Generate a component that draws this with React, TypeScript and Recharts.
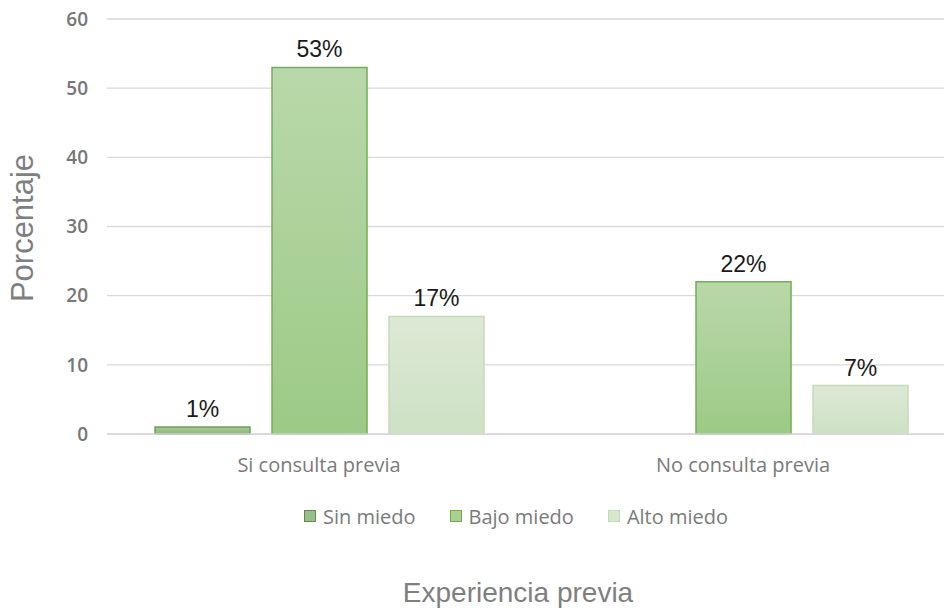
import React from 'react';
import { BarChart, Bar, XAxis, YAxis, CartesianGrid, Legend, LabelList } from 'recharts';

const categories = ['Si consulta previa', 'No consulta previa'];
const sinMiedo = [1, 0];
const bajoMiedo = [53, 22];
const altoMiedo = [17, 7];
const yTicks = [0, 10, 20, 30, 40, 50, 60];
const seriesNames = ['Sin miedo', 'Bajo miedo', 'Alto miedo'];

const data = categories.map((c, i) => ({
  name: c,
  sin: sinMiedo[i],
  bajo: bajoMiedo[i],
  alto: altoMiedo[i],
}));

const seriesStyle = [
  { key: 'sin', grad: 'gSin', stroke: '#6e9e57', legendFill: '#9bbd8b', legendStroke: '#5f8c4a' },
  { key: 'bajo', grad: 'gBajo', stroke: '#74ad52', legendFill: '#a9d193', legendStroke: '#70ad47' },
  { key: 'alto', grad: 'gAlto', stroke: '#c5dcb9', legendFill: '#d6e7cd', legendStroke: '#c2dbb4' },
];

const labelFmt = (v: any) => (v ? `${v}%` : '');

const LegendContent = () => (
  <div style={{ display: 'flex', justifyContent: 'center', alignItems: 'center', height: 26, fontFamily: 'Open Sans', fontSize: 20, color: '#7a7a7a' }}>
    {seriesNames.map((n, i) => (
      <div key={n} style={{ display: 'flex', alignItems: 'center', marginRight: i < 2 ? 34 : 0 }}>
        <span style={{ display: 'inline-block', width: 10, height: 10, background: seriesStyle[i].legendFill, border: `1.5px solid ${seriesStyle[i].legendStroke}`, marginRight: 7 }} />
        <span>{n}</span>
      </div>
    ))}
  </div>
);

export default function App() {
  return (
    <div style={{ position: 'absolute', left: 0, top: 0, width: 944, height: 609, overflow: 'hidden', background: '#fff' }}>
      <BarChart
        width={960}
        height={609}
        data={data}
        margin={{ top: 19, right: 5, bottom: 0, left: 0 }}
        barSize={95}
        barGap={22}
      >
        <defs>
          <linearGradient id="gSin" x1="0" y1="0" x2="0" y2="1">
            <stop offset="0%" stopColor="#a8c898" />
            <stop offset="100%" stopColor="#8fb67c" />
          </linearGradient>
          <linearGradient id="gBajo" x1="0" y1="0" x2="0" y2="1">
            <stop offset="0%" stopColor="#b9d8aa" />
            <stop offset="100%" stopColor="#9cca86" />
          </linearGradient>
          <linearGradient id="gAlto" x1="0" y1="0" x2="0" y2="1">
            <stop offset="0%" stopColor="#dde9d6" />
            <stop offset="100%" stopColor="#cde1c3" />
          </linearGradient>
        </defs>
        <CartesianGrid vertical={false} stroke="#d9d9d9" strokeWidth={1.3} />
        <XAxis
          dataKey="name"
          height={149}
          axisLine={{ stroke: '#d9d9d9', strokeWidth: 1.3 }}
          tickLine={false}
          tickSize={0}
          tickMargin={24}
          tick={{ fontFamily: 'Open Sans', fontSize: 20, fill: '#7a7a7a' }}
          label={{
            content: () => (
              <text x={518} y={602} textAnchor="middle" fontFamily="Liberation Sans" fontSize={28} fill="#7f7f7f">
                Experiencia previa
              </text>
            ),
          }}
        />
        <YAxis
          width={107}
          domain={[0, 60]}
          ticks={yTicks}
          axisLine={false}
          tickLine={false}
          tickSize={0}
          tickMargin={19}
          tick={{ fontFamily: 'Open Sans', fontSize: 19, fill: '#777777', fontWeight: 600 }}
          label={{
            content: () => (
              <text x={33} y={228} transform="rotate(-90, 33, 228)" textAnchor="middle" fontFamily="Liberation Sans" fontSize={31} fill="#7f7f7f">
                Porcentaje
              </text>
            ),
          }}
        />
        <Legend
          verticalAlign="bottom"
          content={<LegendContent />}
          wrapperStyle={{ position: 'absolute', left: 296, top: 503, width: 440, height: 26 }}
        />
        {seriesStyle.map((s, i) => (
          <Bar
            key={s.key}
            dataKey={s.key}
            name={seriesNames[i]}
            fill={`url(#${s.grad})`}
            stroke={s.stroke}
            strokeWidth={1.5}
            isAnimationActive={false}
          >
            <LabelList
              dataKey={s.key}
              position="top"
              offset={10}
              formatter={labelFmt}
              style={{ fontFamily: 'Liberation Sans', fontSize: 23, fill: '#1a1a1a' }}
            />
          </Bar>
        ))}
      </BarChart>
    </div>
  );
}
